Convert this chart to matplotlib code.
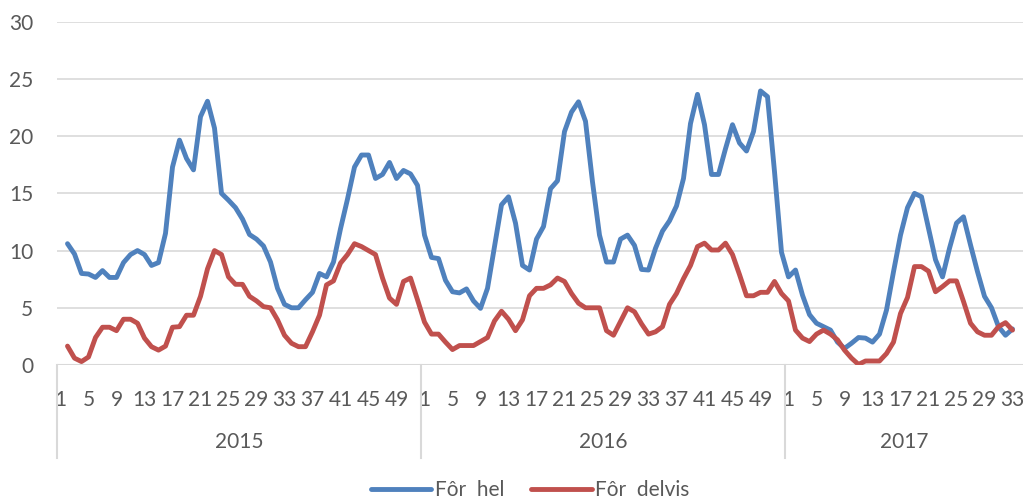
import numpy as np
import matplotlib
matplotlib.use("Agg")
import matplotlib.pyplot as plt
from matplotlib.transforms import blended_transform_factory

nan = float("nan")

# ---- data -------------------------------------------------------------
years = ["2015", "2016", "2017"]
weeks_2015 = list(range(1, 53))
weeks_2016 = list(range(1, 53))
weeks_2017 = list(range(1, 35))

hel_2015 = [nan, 10.6, 9.7, 8.0, 7.95, 7.65, 8.25, 7.65, 7.65, 8.95,
            9.65, 10.0, 9.65, 8.7, 8.95, 11.5, 17.3, 19.65, 18.05, 17.05,
            21.7, 23.05, 20.7, 15.0, 14.4, 13.75, 12.75, 11.4, 11.0, 10.4,
            9.0, 6.7, 5.3, 5.0, 5.0, 5.7, 6.35, 8.0, 7.7, 9.0,
            11.9, 14.5, 17.3, 18.35, 18.35, 16.3, 16.65, 17.7, 16.3, 17.0,
            16.7, 15.7]
hel_2016 = [11.35, 9.4, 9.3, 7.4, 6.4, 6.3, 6.65, 5.6, 4.95, 6.7,
            10.35, 14.0, 14.7, 12.4, 8.7, 8.3, 11.0, 12.1, 15.4, 16.1,
            20.4, 22.1, 23.0, 21.3, 16.0, 11.35, 9.0, 9.0, 11.0, 11.35,
            10.45, 8.35, 8.3, 10.2, 11.7, 12.6, 13.9, 16.3, 21.1, 23.65,
            21.0, 16.65, 16.65, 18.9, 21.0, 19.4, 18.7, 20.4, 23.95, 23.45,
            16.9, 9.85]
hel_2017 = [7.7, 8.3, 6.1, 4.4, 3.65, 3.35, 3.05, 2.0, 1.45, 1.9,
            2.4, 2.35, 2.0, 2.7, 4.8, 8.15, 11.35, 13.75, 15.0, 14.7,
            11.95, 9.2, 7.7, 10.2, 12.4, 12.95, 10.5, 8.15, 6.0, 5.0,
            3.35, 2.6, 3.15, nan]

delvis_2015 = [nan, 1.65, 0.6, 0.3, 0.7, 2.4, 3.3, 3.3, 3.0, 4.0,
               4.0, 3.65, 2.35, 1.6, 1.3, 1.65, 3.3, 3.35, 4.35, 4.35,
               6.0, 8.4, 10.0, 9.65, 7.7, 7.05, 7.05, 6.0, 5.6, 5.1,
               5.0, 3.95, 2.6, 1.9, 1.6, 1.6, 2.9, 4.35, 7.0, 7.35,
               8.9, 9.65, 10.6, 10.35, 10.0, 9.65, 7.6, 5.85, 5.3, 7.3,
               7.6, 5.7]
delvis_2016 = [3.75, 2.7, 2.7, 2.0, 1.35, 1.7, 1.7, 1.7, 2.05, 2.4,
               3.85, 4.7, 4.0, 3.0, 3.95, 6.05, 6.7, 6.7, 7.0, 7.6,
               7.3, 6.25, 5.4, 5.0, 5.0, 5.0, 3.0, 2.6, 3.8, 5.0,
               4.65, 3.6, 2.7, 2.9, 3.35, 5.3, 6.25, 7.55, 8.7, 10.35,
               10.65, 10.05, 10.05, 10.65, 9.65, 7.9, 6.05, 6.05, 6.35, 6.35,
               7.3, 6.25]
delvis_2017 = [5.6, 3.05, 2.35, 2.05, 2.7, 3.05, 2.7, 2.2, 1.3, 0.6,
               0.05, 0.35, 0.35, 0.35, 1.0, 2.0, 4.5, 5.9, 8.6, 8.6,
               8.2, 6.4, 6.85, 7.35, 7.35, 5.55, 3.65, 2.9, 2.6, 2.6,
               3.35, 3.7, 3.05, nan]

series_labels = ["Fôr  hel", "Fôr  delvis"]
y_ticks = [0, 5, 10, 15, 20, 25, 30]

# ---- assemble category axis ------------------------------------------
week_lists = [weeks_2015, weeks_2016, weeks_2017]
hel = np.array(hel_2015 + hel_2016 + hel_2017, dtype=float)
delvis = np.array(delvis_2015 + delvis_2016 + delvis_2017, dtype=float)
n = len(hel)
xpos = np.arange(n)

tick_pos, tick_lab, bounds, centers = [], [], [-0.5], []
start = 0
for wl in week_lists:
    for k, w in enumerate(wl):
        if (w - 1) % 4 == 0:
            tick_pos.append(start + k)
            tick_lab.append(str(w))
    centers.append(start + (len(wl) - 1) / 2)
    start += len(wl)
    bounds.append(start - 0.5)

# ---- figure ------------------------------------------------------------
FONT = "Lato"
TXT = "#595959"
BLUE = "#4F81BD"
RED = "#C0504D"
GRID = "#D9D9D9"
FS = 15

W, H = 1026, 503
fig = plt.figure(figsize=(W / 100, H / 100), dpi=100)
ax_left, ax_right, ax_top, ax_bot = 57, 1023, 21.7, 365
ax = fig.add_axes([ax_left / W, (H - ax_bot) / H,
                   (ax_right - ax_left) / W, (ax_bot - ax_top) / H])

l1, = ax.plot(xpos, hel, color=BLUE, lw=3.5, solid_joinstyle="round",
              solid_capstyle="round", label=series_labels[0])
l2, = ax.plot(xpos, delvis, color=RED, lw=3.5, solid_joinstyle="round",
              solid_capstyle="round", label=series_labels[1])

ax.set_xlim(-0.5, n - 0.5)
ax.set_ylim(0, 30)
ax.set_yticks(y_ticks)
ax.set_yticklabels([str(v) for v in y_ticks], fontsize=FS, color=TXT,
                   fontfamily=FONT)
ax.yaxis.grid(True, color=GRID, lw=1.2)
ax.set_axisbelow(True)
for s in ax.spines.values():
    s.set_visible(False)
ax.tick_params(axis="y", length=0, pad=17)
ax.tick_params(axis="x", length=0, pad=18)
ax.set_xticks(tick_pos)
ax.set_xticklabels(tick_lab, fontsize=FS, color=TXT, fontfamily=FONT)

# bottom axis line
ax.axhline(0, color=GRID, lw=1.5, zorder=0.5)

trans = blended_transform_factory(ax.transData, ax.transAxes)
axh = ax_bot - ax_top
sep_bottom = -(458 - ax_bot) / axh
for b in bounds[:-1]:
    ax.plot([b, b], [0, sep_bottom], color=GRID, lw=1.5, transform=trans,
            clip_on=False)
year_y = -(442.5 - ax_bot) / axh
for c, yr in zip(centers, years):
    ax.text(c, year_y, yr, transform=trans, ha="center", va="center",
            fontsize=FS, color=TXT, fontfamily=FONT)

leg = fig.legend(handles=[l1, l2], loc="center", ncol=2,
                 bbox_to_anchor=(530 / W, 1 - 490 / H), frameon=False,
                 prop={"family": FONT, "size": FS}, handlelength=2.9,
                 handletextpad=0.15, columnspacing=1.3)
for t in leg.get_texts():
    t.set_color(TXT)

fig.savefig("out.png", dpi=100)
